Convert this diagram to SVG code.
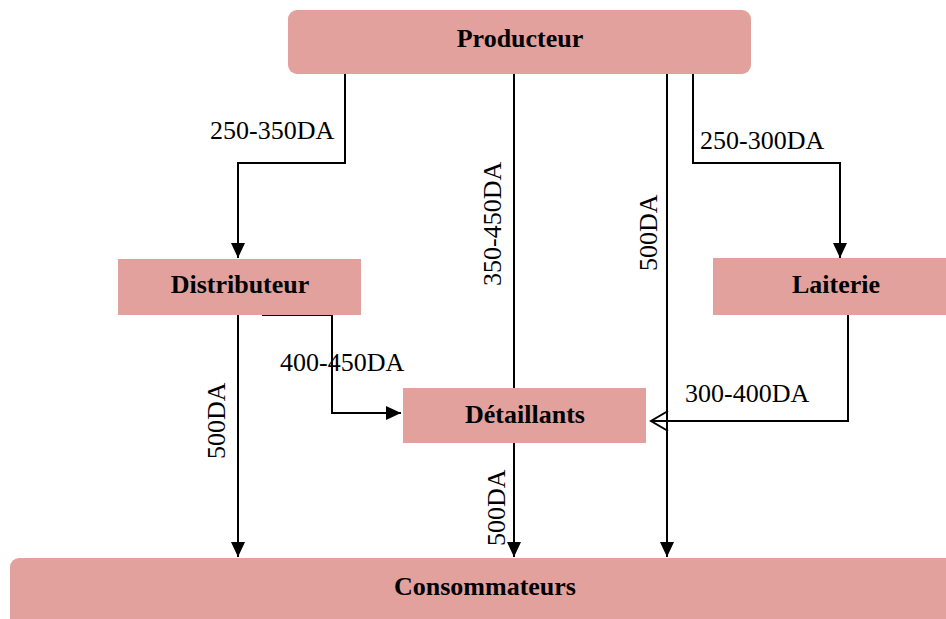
<svg xmlns="http://www.w3.org/2000/svg" width="946" height="619" viewBox="0 0 946 619">
  <style>
    .box { fill: #E3A19D; }
    .name { font-family: "Liberation Serif", "DejaVu Serif", serif; font-size: 26px; font-weight: bold; fill: #000; text-anchor: middle; }
    .price { font-family: "Liberation Serif", "DejaVu Serif", serif; font-size: 26px; fill: #000; }
    .link { fill: none; stroke: #000; stroke-width: 2; }
  </style>
  <defs>
    <marker id="solid" markerWidth="16" markerHeight="16" refX="15" refY="8" orient="auto" markerUnits="userSpaceOnUse">
      <path d="M0,1 L15,8 L0,15 Z" fill="#000"/>
    </marker>
    <marker id="open" markerWidth="20" markerHeight="24" refX="18" refY="12" orient="auto" markerUnits="userSpaceOnUse">
      <path d="M1,2 L18,12 L1,22" fill="none" stroke="#000" stroke-width="2"/>
    </marker>
  </defs>

  <rect width="946" height="619" fill="#fff"/>

  <!-- connectors -->
  <g id="connectors">
    <path class="link" d="M345,70 V163 H238 V258" marker-end="url(#solid)"/>
    <path class="link" d="M514,70 V557" stroke-width="1.6" marker-end="url(#solid)"/>
    <path class="link" d="M667,70 V557" marker-end="url(#solid)"/>
    <path class="link" d="M693,70 V163 H840 V258" marker-end="url(#solid)"/>
    <path class="link" d="M238,315 V557" marker-end="url(#solid)"/>
    <path class="link" d="M262,315 H332 V413 H401" marker-end="url(#solid)"/>
    <path class="link" d="M848,315 V421 H651" marker-end="url(#open)"/>

    <text class="price" x="210" y="139">250-350DA</text>
    <text class="price" x="700" y="149">250-300DA</text>
    <text class="price" x="280" y="371">400-450DA</text>
    <text class="price" x="685" y="402">300-400DA</text>
    <text class="price" transform="translate(501,286) rotate(-90)">350-450DA</text>
    <text class="price" transform="translate(657,271) rotate(-90)">500DA</text>
    <text class="price" transform="translate(225,459) rotate(-90)">500DA</text>
    <text class="price" transform="translate(505,546) rotate(-90)">500DA</text>
  </g>

  <!-- nodes -->
  <g id="producteur">
    <rect class="box" x="288" y="10" width="463" height="64" rx="9"/>
    <text class="name" x="520" y="47">Producteur</text>
  </g>
  <g id="distributeur">
    <rect class="box" x="118" y="259" width="243" height="56"/>
    <text class="name" x="240" y="293">Distributeur</text>
  </g>
  <g id="laiterie">
    <rect class="box" x="713" y="258" width="240" height="57"/>
    <text class="name" x="836" y="293">Laiterie</text>
  </g>
  <g id="detaillants">
    <rect class="box" x="403" y="388" width="243" height="55"/>
    <text class="name" x="525" y="423">Détaillants</text>
  </g>
  <g id="consommateurs">
    <rect class="box" x="10" y="558" width="960" height="80" rx="9"/>
    <text class="name" x="485" y="595">Consommateurs</text>
  </g>
</svg>
